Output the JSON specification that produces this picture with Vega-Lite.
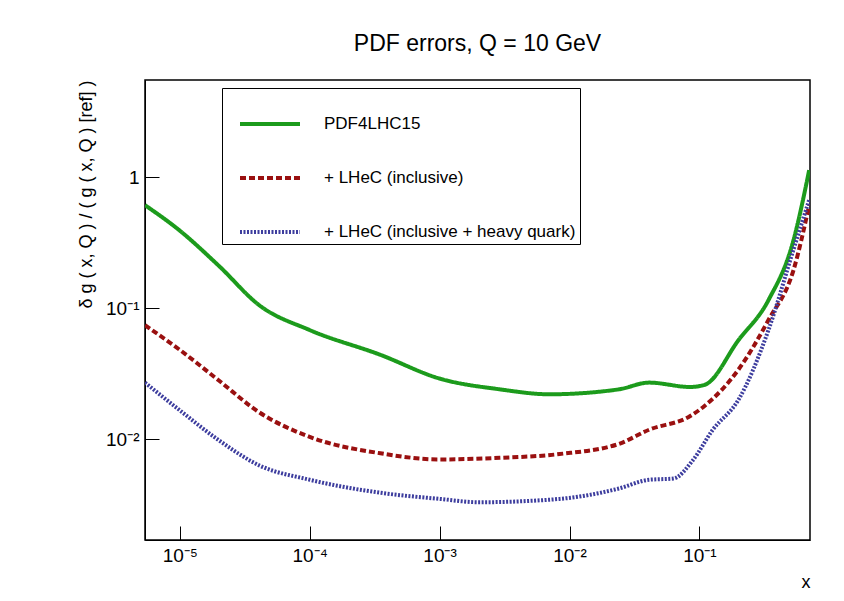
{
  "$schema": "https://vega.github.io/schema/vega-lite/v6.json",
  "width": 665,
  "height": 460,
  "autosize": {"type": "none"},
  "padding": {"left": 145, "top": 80, "right": 34, "bottom": 61},
  "background": "white",
  "title": {"text": "PDF errors, Q = 10 GeV", "font": "Liberation Sans", "fontSize": 23, "fontWeight": "normal", "offset": 24, "color": "black"},
  "data": {
    "values": [
      {"x": 5.4e-6, "err": 0.61, "set": "PDF4LHC15"},
      {"x": 1e-5, "err": 0.39, "set": "PDF4LHC15"},
      {"x": 2e-5, "err": 0.21, "set": "PDF4LHC15"},
      {"x": 4.1e-5, "err": 0.105, "set": "PDF4LHC15"},
      {"x": 1e-4, "err": 0.068, "set": "PDF4LHC15"},
      {"x": 3.5e-4, "err": 0.044, "set": "PDF4LHC15"},
      {"x": 1e-3, "err": 0.029, "set": "PDF4LHC15"},
      {"x": 2.9e-3, "err": 0.024, "set": "PDF4LHC15"},
      {"x": 7e-3, "err": 0.022, "set": "PDF4LHC15"},
      {"x": 2.4e-2, "err": 0.024, "set": "PDF4LHC15"},
      {"x": 4.1e-2, "err": 0.027, "set": "PDF4LHC15"},
      {"x": 8.5e-2, "err": 0.025, "set": "PDF4LHC15"},
      {"x": 0.11, "err": 0.026, "set": "PDF4LHC15"},
      {"x": 0.2, "err": 0.057, "set": "PDF4LHC15"},
      {"x": 0.34, "err": 0.115, "set": "PDF4LHC15"},
      {"x": 0.53, "err": 0.33, "set": "PDF4LHC15"},
      {"x": 0.7, "err": 1.13, "set": "PDF4LHC15"},
      {"x": 5.4e-6, "err": 0.074, "set": "+ LHeC (inclusive)"},
      {"x": 1e-5, "err": 0.048, "set": "+ LHeC (inclusive)"},
      {"x": 2e-5, "err": 0.028, "set": "+ LHeC (inclusive)"},
      {"x": 4.1e-5, "err": 0.016, "set": "+ LHeC (inclusive)"},
      {"x": 1e-4, "err": 0.0104, "set": "+ LHeC (inclusive)"},
      {"x": 3.5e-4, "err": 0.0078, "set": "+ LHeC (inclusive)"},
      {"x": 1e-3, "err": 0.007, "set": "+ LHeC (inclusive)"},
      {"x": 2.9e-3, "err": 0.0072, "set": "+ LHeC (inclusive)"},
      {"x": 8.4e-3, "err": 0.0077, "set": "+ LHeC (inclusive)"},
      {"x": 2.4e-2, "err": 0.0092, "set": "+ LHeC (inclusive)"},
      {"x": 4.1e-2, "err": 0.0118, "set": "+ LHeC (inclusive)"},
      {"x": 8.5e-2, "err": 0.015, "set": "+ LHeC (inclusive)"},
      {"x": 0.11, "err": 0.018, "set": "+ LHeC (inclusive)"},
      {"x": 0.2, "err": 0.034, "set": "+ LHeC (inclusive)"},
      {"x": 0.34, "err": 0.081, "set": "+ LHeC (inclusive)"},
      {"x": 0.53, "err": 0.195, "set": "+ LHeC (inclusive)"},
      {"x": 0.7, "err": 0.61, "set": "+ LHeC (inclusive)"},
      {"x": 5.4e-6, "err": 0.027, "set": "+ LHeC (inclusive + heavy quark)"},
      {"x": 1e-5, "err": 0.0166, "set": "+ LHeC (inclusive + heavy quark)"},
      {"x": 2e-5, "err": 0.0098, "set": "+ LHeC (inclusive + heavy quark)"},
      {"x": 4.1e-5, "err": 0.0063, "set": "+ LHeC (inclusive + heavy quark)"},
      {"x": 1e-4, "err": 0.0049, "set": "+ LHeC (inclusive + heavy quark)"},
      {"x": 3.5e-4, "err": 0.0039, "set": "+ LHeC (inclusive + heavy quark)"},
      {"x": 1e-3, "err": 0.0035, "set": "+ LHeC (inclusive + heavy quark)"},
      {"x": 2e-3, "err": 0.0033, "set": "+ LHeC (inclusive + heavy quark)"},
      {"x": 8.4e-3, "err": 0.0035, "set": "+ LHeC (inclusive + heavy quark)"},
      {"x": 2.4e-2, "err": 0.0042, "set": "+ LHeC (inclusive + heavy quark)"},
      {"x": 4.1e-2, "err": 0.0049, "set": "+ LHeC (inclusive + heavy quark)"},
      {"x": 6.3e-2, "err": 0.005, "set": "+ LHeC (inclusive + heavy quark)"},
      {"x": 0.089, "err": 0.0069, "set": "+ LHeC (inclusive + heavy quark)"},
      {"x": 0.126, "err": 0.0117, "set": "+ LHeC (inclusive + heavy quark)"},
      {"x": 0.2, "err": 0.02, "set": "+ LHeC (inclusive + heavy quark)"},
      {"x": 0.34, "err": 0.068, "set": "+ LHeC (inclusive + heavy quark)"},
      {"x": 0.53, "err": 0.28, "set": "+ LHeC (inclusive + heavy quark)"},
      {"x": 0.7, "err": 0.67, "set": "+ LHeC (inclusive + heavy quark)"}
    ]
  },
  "mark": {"type": "line", "interpolate": "monotone", "clip": true},
  "encoding": {
    "x": {
      "field": "x", "type": "quantitative",
      "scale": {"type": "log", "domain": [5.4e-6, 0.71], "nice": false},
      "axis": {
        "title": "x", "titleAnchor": "end", "titleAlign": "right", "titleFontSize": 18, "titleFontWeight": "normal", "titlePadding": 8,
        "values": [1e-5, 1e-4, 1e-3, 1e-2, 1e-1],
        "labelExpr": "datum.value < 5e-5 ? '10⁻⁵' : datum.value < 5e-4 ? '10⁻⁴' : datum.value < 5e-3 ? '10⁻³' : datum.value < 5e-2 ? '10⁻²' : '10⁻¹'",
        "tickSize": -14, "labelPadding": 20, "labelFontSize": 19
      }
    },
    "y": {
      "field": "err", "type": "quantitative",
      "scale": {"type": "log", "domain": [0.0017, 5.5], "nice": false},
      "axis": {
        "title": "δ g ( x, Q ) / ( g ( x, Q ) [ref] )", "titleAnchor": "end", "titleFontSize": 18, "titleFontWeight": "normal", "titlePadding": 10,
        "values": [0.01, 0.1, 1],
        "labelExpr": "datum.value < 0.05 ? '10⁻²' : datum.value < 0.5 ? '10⁻¹' : '1'",
        "tickSize": -14, "labelPadding": 20, "labelFontSize": 19
      }
    },
    "color": {
      "field": "set", "type": "nominal", "title": null,
      "scale": {"domain": ["PDF4LHC15", "+ LHeC (inclusive)", "+ LHeC (inclusive + heavy quark)"], "range": ["#1c9b1c", "#9a1010", "#3d3d9e"]},
      "legend": {"orient": "none", "legendX": 77, "legendY": 8, "symbolType": "stroke", "symbolStrokeWidth": 4}
    },
    "strokeDash": {
      "field": "set", "type": "nominal", "title": null,
      "scale": {"domain": ["PDF4LHC15", "+ LHeC (inclusive)", "+ LHeC (inclusive + heavy quark)"], "range": [[1, 0], [6, 3], [2, 1.5]]},
      "legend": {"orient": "none", "legendX": 77, "legendY": 8, "symbolType": "stroke", "symbolStrokeWidth": 4}
    }
  },
  "config": {
    "font": "Liberation Sans",
    "line": {"strokeWidth": 4},
    "view": {"stroke": "black", "strokeWidth": 1.5},
    "axis": {"grid": false, "domainColor": "black", "tickColor": "black", "labelColor": "black", "titleColor": "black", "labelFont": "Liberation Sans", "titleFont": "Liberation Sans"},
    "legend": {
      "strokeColor": "black", "fillColor": "white", "padding": 4,
      "symbolSize": 3600, "symbolOffset": 12,
      "labelFontSize": 17, "labelColor": "black", "labelOffset": 22, "labelLimit": 400,
      "rowPadding": 14
    }
  }
}
